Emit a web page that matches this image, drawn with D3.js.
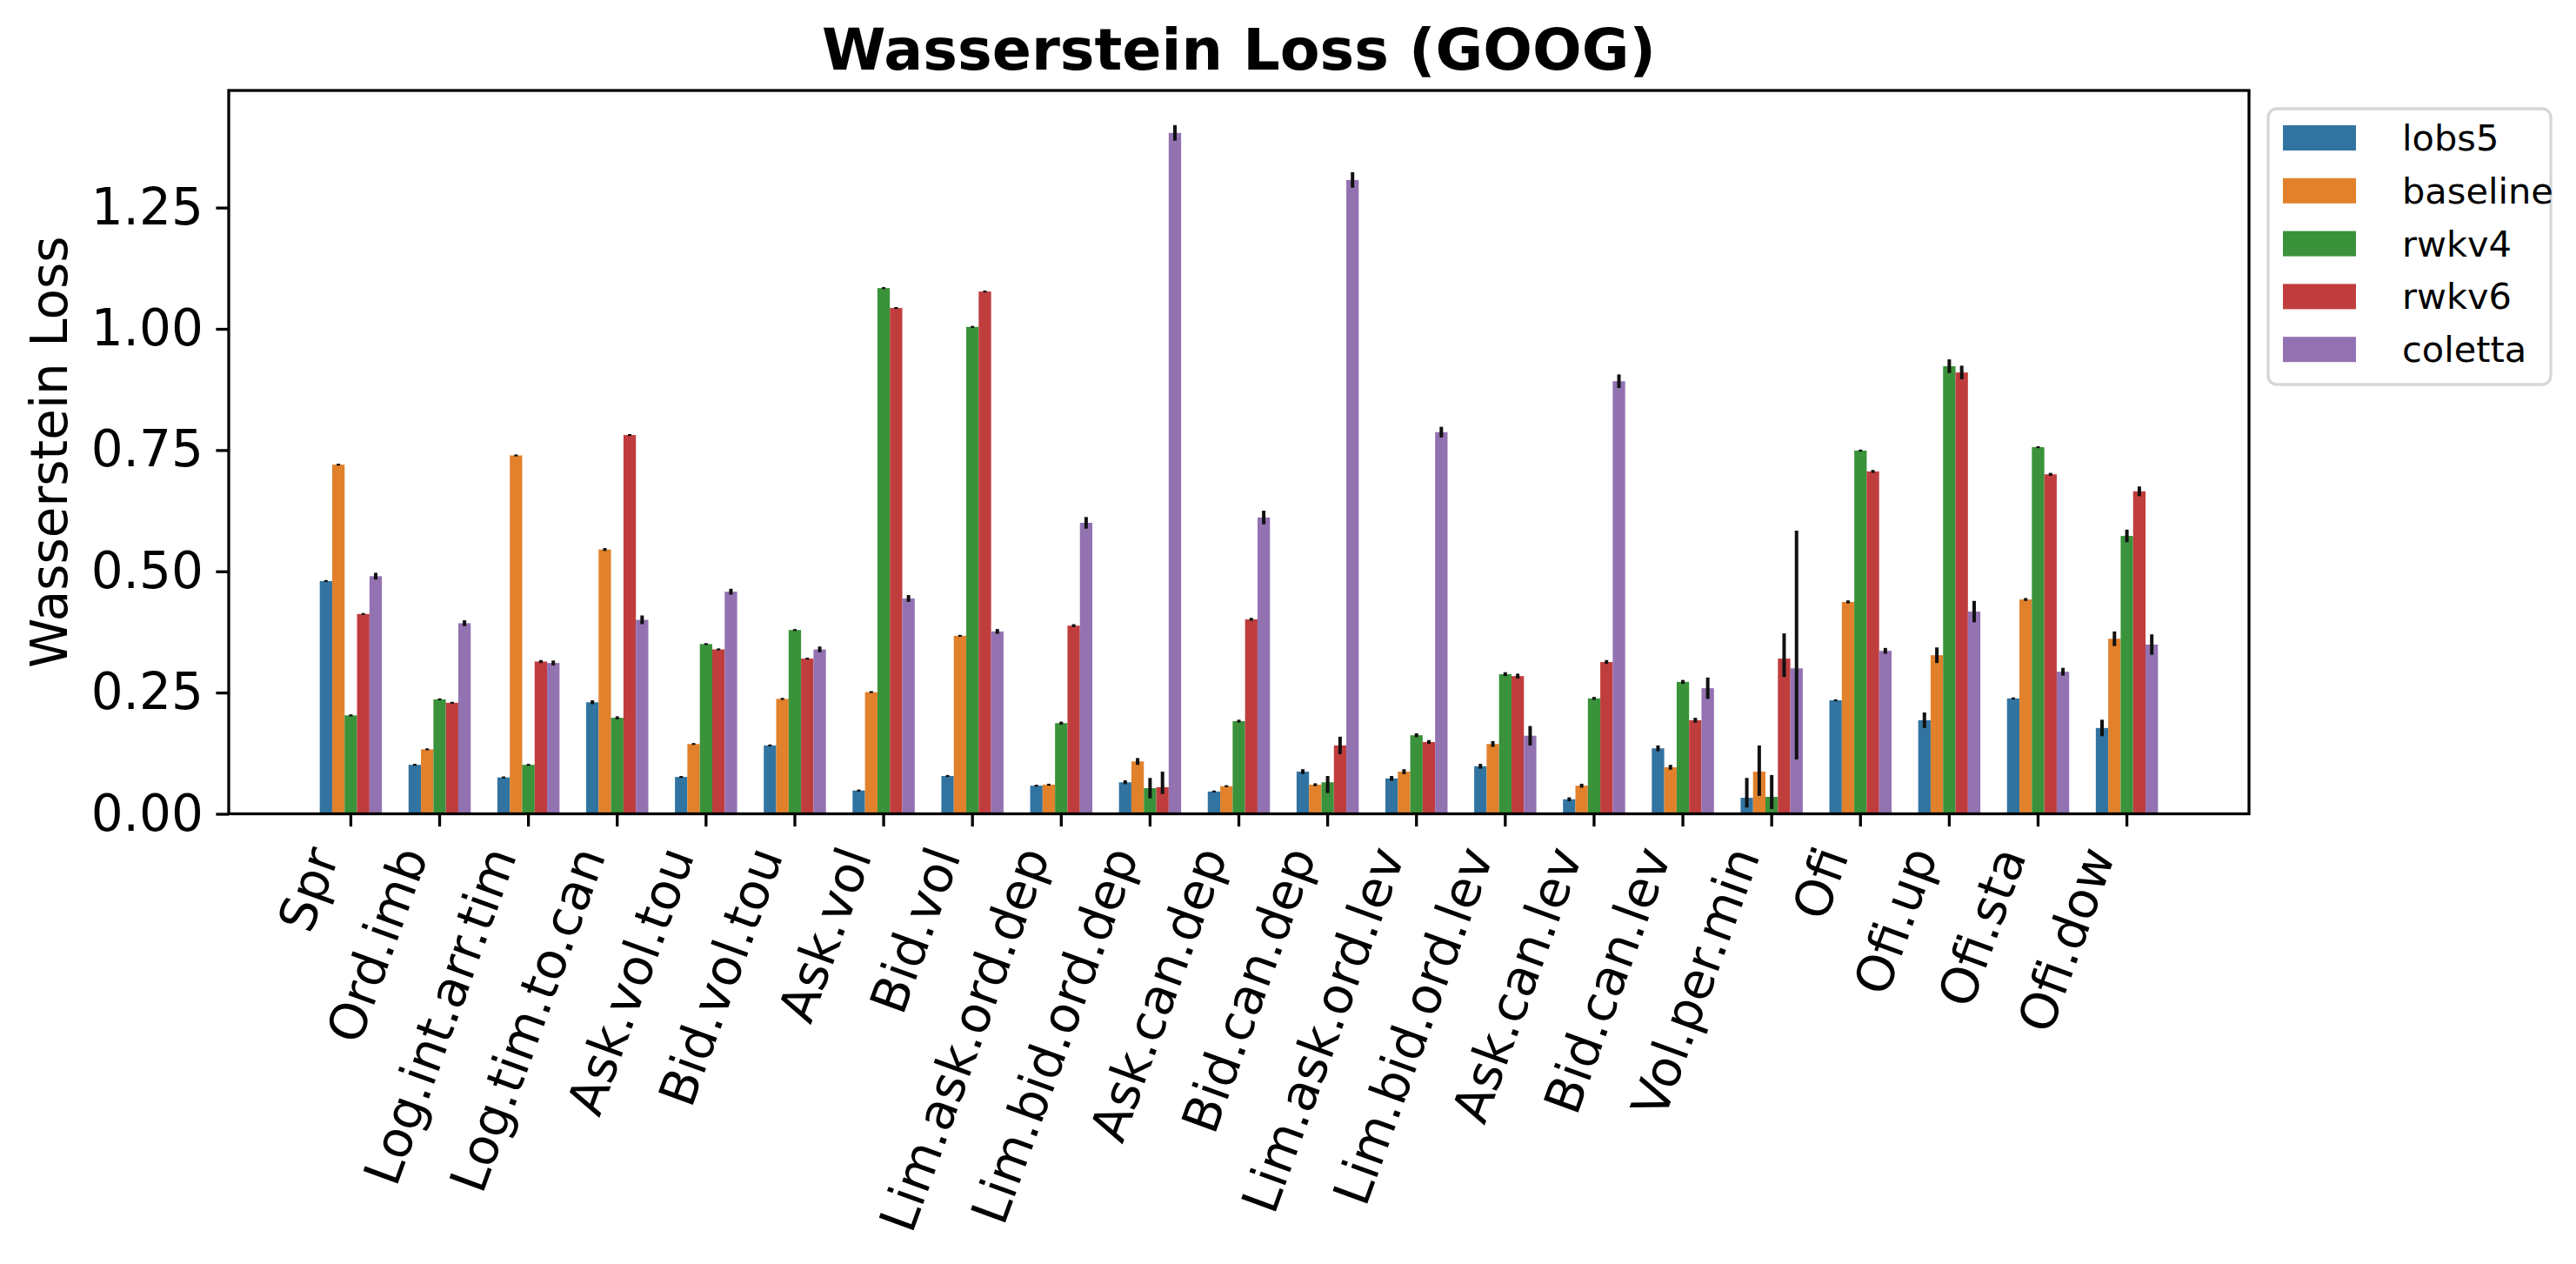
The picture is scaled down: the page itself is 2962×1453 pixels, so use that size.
<!DOCTYPE html>
<html>
<head>
<meta charset="utf-8">
<script src="https://cdn.jsdelivr.net/npm/d3@7"></script>
<style>
  body { margin: 0; background: #fff; }
  text { font-family: "DejaVu Sans", sans-serif; }
</style>
</head>
<body>
<div id="chart"></div>
<script>
// data
var categories = ["Spr", "Ord.imb", "Log.int.arr.tim", "Log.tim.to.can", "Ask.vol.tou", "Bid.vol.tou",
  "Ask.vol", "Bid.vol", "Lim.ask.ord.dep", "Lim.bid.ord.dep", "Ask.can.dep", "Bid.can.dep",
  "Lim.ask.ord.lev", "Lim.bid.ord.lev", "Ask.can.lev", "Bid.can.lev", "Vol.per.min",
  "Ofi", "Ofi.up", "Ofi.sta", "Ofi.dow"];
var seriesNames = ["lobs5", "baseline", "rwkv4", "rwkv6", "coletta"];
var seriesColors = ["#3274a1", "#e1812c", "#3a923a", "#c03d3e", "#9372b2"];

var lobs5 = [0.480, 0.101, 0.075, 0.230, 0.076, 0.141, 0.048, 0.078, 0.058, 0.065, 0.046,
  0.087, 0.073, 0.098, 0.030, 0.135, 0.033, 0.234, 0.193, 0.238, 0.177];
var baseline = [0.720, 0.133, 0.739, 0.545, 0.144, 0.237, 0.251, 0.367, 0.060, 0.108, 0.057,
  0.060, 0.087, 0.144, 0.058, 0.096, 0.087, 0.437, 0.327, 0.442, 0.361];
var rwkv4 = [0.203, 0.236, 0.101, 0.198, 0.350, 0.379, 1.084, 1.004, 0.187, 0.053, 0.191,
  0.065, 0.162, 0.288, 0.238, 0.272, 0.035, 0.749, 0.923, 0.756, 0.573];
var rwkv6 = [0.412, 0.229, 0.314, 0.781, 0.339, 0.320, 1.043, 1.077, 0.388, 0.055, 0.401,
  0.141, 0.148, 0.284, 0.313, 0.193, 0.320, 0.706, 0.910, 0.700, 0.665];
var coletta = [0.490, 0.393, 0.311, 0.400, 0.458, 0.339, 0.444, 0.376, 0.600, 1.404, 0.611,
  1.307, 0.787, 0.161, 0.892, 0.259, 0.300, 0.336, 0.417, 0.293, 0.349];

// error bar sizes: a number = same both ways, [down, up] otherwise
var lobs5Err = [0.002, 0.002, 0.002, 0.004, 0.002, 0.002, 0.002, 0.002, 0.002, 0.004, 0.002,
  0.005, 0.005, 0.005, 0.004, 0.006, [0.020, 0.041], 0.002, 0.016, 0.002, 0.017];
var baselineErr = [0.002, 0.002, 0.002, 0.003, 0.002, 0.002, 0.002, 0.002, 0.002, 0.007, 0.002,
  0.003, 0.005, 0.006, 0.004, 0.005, [0.050, 0.054], 0.003, 0.016, 0.003, 0.015];
var rwkv4Err = [0.002, 0.002, 0.002, 0.003, 0.002, 0.002, 0.002, 0.002, 0.003, 0.021, 0.003,
  [0.022, 0.013], 0.004, 0.004, 0.003, 0.004, [0.025, 0.045], 0.002, 0.014, 0.002, 0.013];
var rwkv6Err = [0.002, 0.002, 0.003, 0.002, 0.002, 0.002, 0.002, 0.002, 0.003, [0.014, 0.032], 0.003,
  0.018, 0.004, 0.005, 0.004, 0.005, [0.038, 0.052], 0.003, 0.014, 0.003, 0.010];
var colettaErr = [0.007, 0.006, 0.005, 0.009, 0.006, 0.006, 0.007, 0.005, 0.012, 0.016, 0.014,
  0.016, 0.011, 0.020, 0.014, 0.022, [0.188, 0.284], 0.006, 0.022, 0.008, 0.021];

var yTicks = [0, 0.25, 0.5, 0.75, 1.0, 1.25];

var seriesValues = [lobs5, baseline, rwkv4, rwkv6, coletta];
var seriesErrors = [lobs5Err, baselineErr, rwkv4Err, rwkv6Err, colettaErr];

var svgWidth = 2962;
var svgHeight = 1453;
var margin = { top: 104, right: 376, bottom: 517.5, left: 263 };
var width = svgWidth - margin.left - margin.right;
var height = svgHeight - margin.top - margin.bottom;

var svg = d3.select("#chart")
  .append("svg")
  .attr("width", svgWidth)
  .attr("height", svgHeight);

svg.append("rect").attr("width", svgWidth).attr("height", svgHeight).attr("fill", "#fff");

var chartGroup = svg.append("g")
  .attr("transform", `translate(${margin.left}, ${margin.top})`);

// scales
var xScale = d3.scaleBand()
  .domain(categories)
  .range([0, width])
  .paddingInner(0)
  .paddingOuter(0.875);
var step = xScale.step();

var hueScale = d3.scaleBand()
  .domain(seriesNames)
  .range([-0.35 * step, 0.35 * step]);

var yScale = d3.scaleLinear()
  .domain([0, 1.4915])
  .range([height, 0]);

// bars + error bars
var rows = [];
seriesNames.forEach(function(s, si) {
  categories.forEach(function(c, ci) {
    var e = seriesErrors[si][ci];
    var down = Array.isArray(e) ? e[0] : e;
    var up = Array.isArray(e) ? e[1] : e;
    rows.push({ series: s, si: si, cat: c, value: seriesValues[si][ci], lo: seriesValues[si][ci] - down, hi: seriesValues[si][ci] + up });
  });
});

chartGroup.selectAll("rect.bar")
  .data(rows)
  .enter()
  .append("rect")
  .attr("class", "bar")
  .attr("x", d => xScale(d.cat) + step / 2 + hueScale(d.series))
  .attr("width", hueScale.bandwidth())
  .attr("y", d => yScale(d.value))
  .attr("height", d => height - yScale(d.value))
  .attr("fill", d => seriesColors[d.si]);

chartGroup.selectAll("line.err")
  .data(rows)
  .enter()
  .append("line")
  .attr("class", "err")
  .attr("x1", d => xScale(d.cat) + step / 2 + hueScale(d.series) + hueScale.bandwidth() / 2)
  .attr("x2", d => xScale(d.cat) + step / 2 + hueScale(d.series) + hueScale.bandwidth() / 2)
  .attr("y1", d => yScale(d.lo))
  .attr("y2", d => yScale(Math.max(d.hi, d.lo + 0.004)))
  .attr("stroke", "#111")
  .attr("stroke-width", 4);

// axes
var bottomAxis = d3.axisBottom(xScale).tickSizeInner(14.6).tickSizeOuter(0);
var leftAxis = d3.axisLeft(yScale).tickValues(yTicks).tickFormat(d3.format(".2f"))
  .tickSizeInner(14.6).tickSizeOuter(0).tickPadding(14.6);

var xAxisG = chartGroup.append("g")
  .attr("transform", `translate(0, ${height})`)
  .call(bottomAxis);
xAxisG.select(".domain").remove();
xAxisG.selectAll(".tick line").attr("stroke", "#000").attr("stroke-width", 3.3);
xAxisG.selectAll(".tick text")
  .attr("x", 0).attr("y", 0).attr("dy", 0)
  .attr("text-anchor", "end")
  .attr("transform", "translate(-13, 48) rotate(-70)")
  .attr("fill", "#000")
  .style("font-size", "58px")
  .style("font-family", "DejaVu Sans");

var yAxisG = chartGroup.append("g").call(leftAxis);
yAxisG.select(".domain").remove();
yAxisG.selectAll(".tick line").attr("stroke", "#000").attr("stroke-width", 3.3);
yAxisG.selectAll(".tick text")
  .attr("fill", "#000")
  .style("font-size", "58px")
  .style("font-family", "DejaVu Sans");

// frame
chartGroup.append("rect")
  .attr("width", width)
  .attr("height", height)
  .attr("fill", "none")
  .attr("stroke", "#000")
  .attr("stroke-width", 3.3);

// titles
svg.append("text")
  .attr("x", margin.left + width / 2)
  .attr("y", 80)
  .attr("text-anchor", "middle")
  .style("font-size", "66.7px")
  .style("font-weight", "bold")
  .text("Wasserstein Loss (GOOG)");

svg.append("text")
  .attr("transform", `translate(77, ${margin.top + height / 2}) rotate(-90)`)
  .attr("text-anchor", "middle")
  .style("font-size", "58px")
  .text("Wasserstein Loss");

// legend
var legend = svg.append("g").attr("transform", "translate(2608, 125)");
legend.append("rect")
  .attr("width", 325)
  .attr("height", 317)
  .attr("rx", 10)
  .attr("fill", "#fff")
  .attr("stroke", "#d6d6d6")
  .attr("stroke-width", 3.3);

var legendItems = legend.selectAll("g.item")
  .data(seriesNames)
  .enter()
  .append("g")
  .attr("class", "item")
  .attr("transform", (d, i) => `translate(17, ${19 + i * 60.8})`);

legendItems.append("rect")
  .attr("width", 84)
  .attr("height", 29)
  .attr("fill", (d, i) => seriesColors[i]);

legendItems.append("text")
  .attr("x", 137)
  .attr("y", 29)
  .style("font-size", "41.5px")
  .text(d => d);
</script>
</body>
</html>
